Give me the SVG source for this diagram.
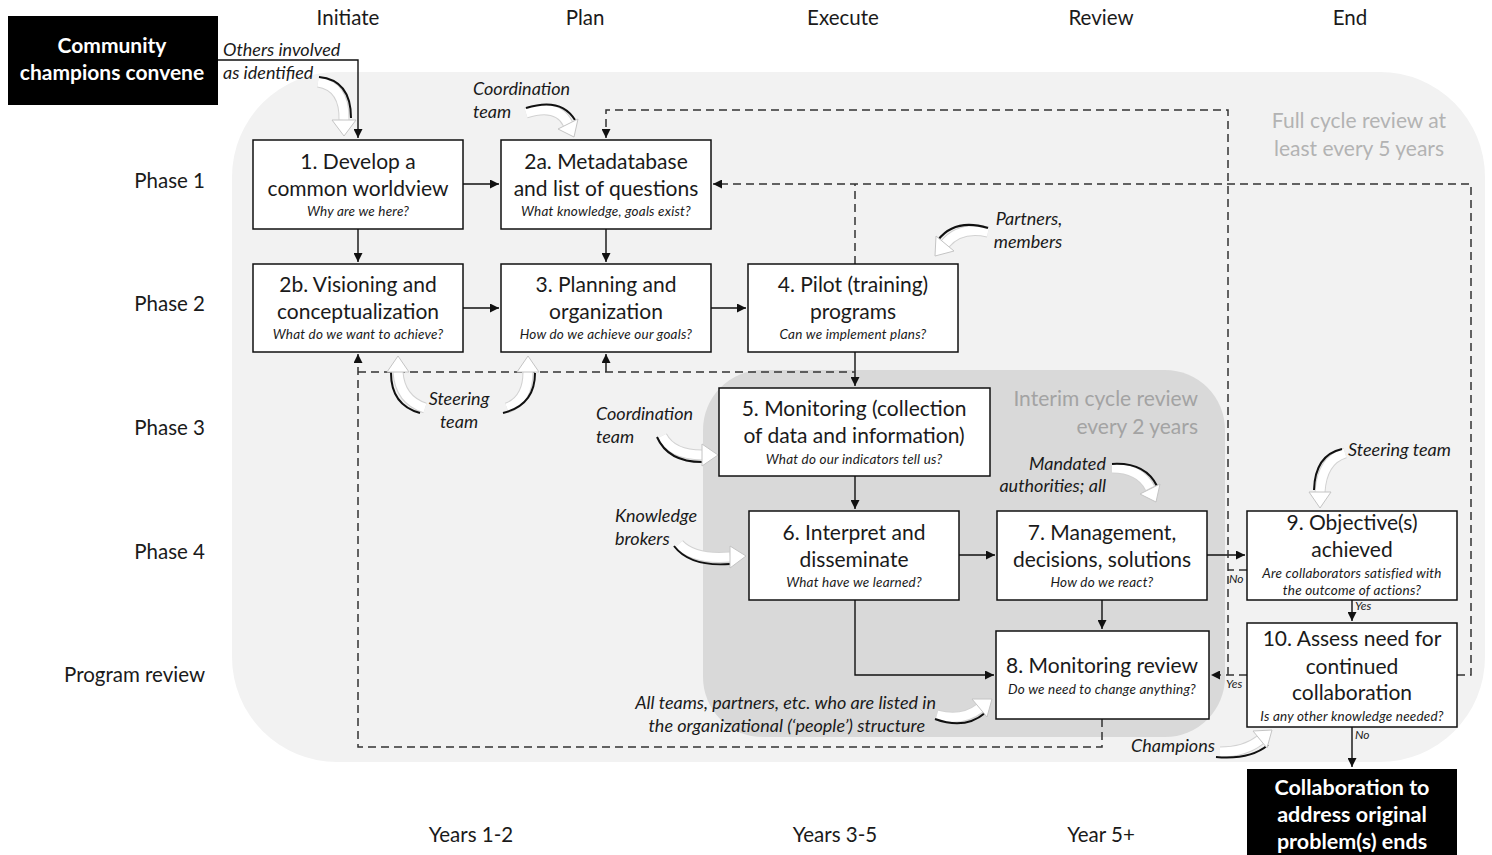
<svg xmlns="http://www.w3.org/2000/svg" width="1492" height="855" viewBox="0 0 1492 855">
<style>
.t{font-family:Lato,"Liberation Sans",sans-serif;fill:#1a1a1a}
.hd{font-size:20.5px;text-anchor:middle}
.rl{font-size:20.5px;text-anchor:end}
.ti{font-size:21px;text-anchor:middle}
.sub{font-size:13.5px;font-style:italic;text-anchor:middle;letter-spacing:0.2px}
.an{font-size:18px;font-style:italic}
.sm{font-size:12px;font-style:italic}
.wb{font-family:Lato,"Liberation Sans",sans-serif;font-weight:bold;fill:#fff;text-anchor:middle}
.gr{font-family:Lato,"Liberation Sans",sans-serif;font-size:21px}
.box{fill:#fff;stroke:#111;stroke-width:1.5}
.ln{fill:none;stroke:#111;stroke-width:1.4}
.ds{fill:none;stroke:#333;stroke-width:1.5;stroke-dasharray:8 5}
.cao{fill:none;stroke:#d2d2d2;stroke-width:11;stroke-linecap:butt}
.cab{fill:none;stroke:#fff;stroke-width:9;stroke-linecap:butt}
.cae{fill:none;stroke:#111;stroke-width:2}
.cah{fill:#fff;stroke:#c4c4c4;stroke-width:1}
</style>
<defs>
<marker id="ah" viewBox="0 0 10 10" refX="10" refY="5" markerWidth="9" markerHeight="9" markerUnits="userSpaceOnUse" orient="auto">
<path d="M0,0 L10,5 L0,10 z" fill="#111"/>
</marker>
</defs>
<rect width="1492" height="855" fill="#fff"/>
<g id="regions">
<rect x="232" y="72" width="1253" height="690" rx="105" ry="105" fill="#f2f2f2"/>
<rect x="703" y="370" width="522" height="367" rx="60" ry="60" fill="#d9d9d9"/>
<text class="gr" x="1359" y="128" text-anchor="middle" fill="#b3b3b3">Full cycle review at</text>
<text class="gr" x="1359" y="156" text-anchor="middle" fill="#b3b3b3">least every 5 years</text>
<text class="gr" x="1198" y="406" text-anchor="end" fill="#a3a3a3">Interim cycle review</text>
<text class="gr" x="1198" y="434" text-anchor="end" fill="#a3a3a3">every 2 years</text>
</g>
<g id="headers">
<text class="t hd" x="348" y="25">Initiate</text>
<text class="t hd" x="585" y="25">Plan</text>
<text class="t hd" x="843" y="25">Execute</text>
<text class="t hd" x="1101" y="25">Review</text>
<text class="t hd" x="1350" y="25">End</text>
<text class="t rl" x="205" y="188">Phase 1</text>
<text class="t rl" x="205" y="311">Phase 2</text>
<text class="t rl" x="205" y="435">Phase 3</text>
<text class="t rl" x="205" y="559">Phase 4</text>
<text class="t rl" x="205" y="682">Program review</text>
<text class="t hd" x="471" y="842">Years 1-2</text>
<text class="t hd" x="835" y="842">Years 3-5</text>
<text class="t hd" x="1101" y="842">Year 5+</text>
</g>
<g id="connectors">
<path class="ln" d="M218,60 H358 V138" marker-end="url(#ah)"/>
<path class="ln" d="M463,184 H499" marker-end="url(#ah)"/>
<path class="ln" d="M358,229 V262" marker-end="url(#ah)"/>
<path class="ln" d="M606,229 V262" marker-end="url(#ah)"/>
<path class="ln" d="M463,308 H499" marker-end="url(#ah)"/>
<path class="ln" d="M711,308 H746" marker-end="url(#ah)"/>
<path class="ln" d="M855,352 V386" marker-end="url(#ah)"/>
<path class="ln" d="M855,476 V509" marker-end="url(#ah)"/>
<path class="ln" d="M959,555 H995" marker-end="url(#ah)"/>
<path class="ln" d="M1102,600 V629" marker-end="url(#ah)"/>
<path class="ln" d="M855,600 V675 H994" marker-end="url(#ah)"/>
<path class="ln" d="M1207,555 H1245" marker-end="url(#ah)"/>
<path class="ln" d="M1352,600 V621" marker-end="url(#ah)"/>
<path class="ln" d="M1352,727 V767" marker-end="url(#ah)"/>
<path class="ln" d="M606,372 V354" marker-end="url(#ah)"/>
<path class="ds" d="M1247,570 H1228"/>
<path class="ds" d="M1228,675 V110 H606 V138" marker-end="url(#ah)"/>
<path class="ds" d="M1247,675 H1211" marker-end="url(#ah)"/>
<path class="ds" d="M1457,675 H1471 V184 H713" marker-end="url(#ah)"/>
<path class="ds" d="M855,264 V184"/>
<path class="ds" d="M1102,719 V747 H358 V354" marker-end="url(#ah)"/>
<path class="ds" d="M358,372 H855"/>
<text class="t sm" x="1229" y="583">No</text>
<text class="t sm" x="1355" y="610">Yes</text>
<text class="t sm" x="1226" y="688">Yes</text>
<text class="t sm" x="1355" y="739">No</text>
</g>
<g id="curved-arrows">
<g id="ca-others">
<path class="cao" d="M318,82 Q345,86 344,120"/><path class="cab" d="M318,82 Q345,86 344,120"/>
<path class="cae" d="M319,77 Q351,80 351,118"/>
<polygon class="cah" points="332,120 356,120 344,136"/>
</g>
<g id="ca-coord1">
<path class="cao" d="M526,113 Q558,103 568,124"/><path class="cab" d="M526,113 Q558,103 568,124"/>
<path class="cae" d="M526,108 Q561,97 575,120"/>
<polygon class="cah" points="578,119 558,129 574,137"/>
</g>
<g id="ca-partners">
<path class="cao" d="M988,232 Q960,226 945,244"/><path class="cab" d="M988,232 Q960,226 945,244"/>
<path class="cae" d="M988,228 Q955,218 938,240"/>
<polygon class="cah" points="954,251 936,236 935,256"/>
</g>
<g id="ca-steer1">
<path class="cao" d="M425,408 Q400,400 398,372"/><path class="cab" d="M425,408 Q400,400 398,372"/>
<path class="cae" d="M420,413 Q391,405 391,373"/>
<polygon class="cah" points="387,372 409,372 398,356"/>
</g>
<g id="ca-steer2">
<path class="cao" d="M507,408 Q528,400 528,372"/><path class="cab" d="M507,408 Q528,400 528,372"/>
<path class="cae" d="M503,413 Q535,405 535,373"/>
<polygon class="cah" points="517,372 539,372 528,356"/>
</g>
<g id="ca-coord2">
<path class="cao" d="M662,436 Q672,455 702,455"/><path class="cab" d="M662,436 Q672,455 702,455"/>
<path class="cae" d="M657,437 Q668,462 702,462"/>
<polygon class="cah" points="702,444 702,466 718,455"/>
</g>
<g id="ca-knowledge">
<path class="cao" d="M679,544 Q694,560 730,557"/><path class="cab" d="M679,544 Q694,560 730,557"/>
<path class="cae" d="M674,546 Q690,567 730,564"/>
<polygon class="cah" points="730,546 730,568 746,556"/>
</g>
<g id="ca-mandated">
<path class="cao" d="M1112,468 Q1140,468 1150,488"/><path class="cab" d="M1112,468 Q1140,468 1150,488"/>
<path class="cae" d="M1112,464 Q1145,462 1157,486"/>
<polygon class="cah" points="1160,484 1140,494 1156,502"/>
</g>
<g id="ca-steer3">
<path class="cao" d="M1345,453 Q1322,460 1320,492"/><path class="cab" d="M1345,453 Q1322,460 1320,492"/>
<path class="cae" d="M1342,449 Q1315,455 1314,490"/>
<polygon class="cah" points="1309,492 1331,492 1320,508"/>
</g>
<g id="ca-allteams">
<path class="cao" d="M937,715 Q962,722 980,708"/><path class="cab" d="M937,715 Q962,722 980,708"/>
<path class="cae" d="M935,719 Q965,730 985,713"/>
<polygon class="cah" points="987,717 972,699 992,699"/>
</g>
<g id="ca-champions">
<path class="cao" d="M1220,752 Q1245,752 1260,740"/><path class="cab" d="M1220,752 Q1245,752 1260,740"/>
<path class="cae" d="M1216,757 Q1250,760 1268,745"/>
<polygon class="cah" points="1267,748 1253,731 1272,730"/>
</g>
</g>
<g id="annotations">
<text class="t an" x="223" y="56">Others involved</text>
<text class="t an" x="223" y="79">as identified</text>
<text class="t an" x="473" y="95">Coordination</text>
<text class="t an" x="473" y="118">team</text>
<text class="t an" x="1029" y="225" text-anchor="middle">Partners,</text>
<text class="t an" x="1028" y="248" text-anchor="middle">members</text>
<text class="t an" x="459" y="405" text-anchor="middle">Steering</text>
<text class="t an" x="459" y="428" text-anchor="middle">team</text>
<text class="t an" x="596" y="420">Coordination</text>
<text class="t an" x="596" y="443">team</text>
<text class="t an" x="615" y="522">Knowledge</text>
<text class="t an" x="615" y="545">brokers</text>
<text class="t an" x="1106" y="470" text-anchor="end">Mandated</text>
<text class="t an" x="1106" y="492" text-anchor="end">authorities; all</text>
<text class="t an" x="1348" y="456">Steering team</text>
<text class="t an" x="936" y="709" text-anchor="end">All teams, partners, etc. who are listed in</text>
<text class="t an" x="925" y="732" text-anchor="end">the organizational (‘people’) structure</text>
<text class="t an" x="1131" y="752">Champions</text>
</g>
<g id="start">
<rect x="8" y="16" width="210" height="89" fill="#000"/>
<text class="wb" x="112" y="53" font-size="21">Community</text>
<text class="wb" x="112" y="80" font-size="21">champions convene</text>
</g>
<g id="n1">
<rect class="box" x="253" y="140" width="210" height="89"/>
<text class="t ti" x="358" y="169">1. Develop a</text>
<text class="t ti" x="358" y="196">common worldview</text>
<text class="t sub" x="358" y="216">Why are we here?</text>
</g>
<g id="n2a">
<rect class="box" x="501" y="140" width="210" height="89"/>
<text class="t ti" x="606" y="169">2a. Metadatabase</text>
<text class="t ti" x="606" y="196">and list of questions</text>
<text class="t sub" x="606" y="216">What knowledge, goals exist?</text>
</g>
<g id="n2b">
<rect class="box" x="253" y="264" width="210" height="88"/>
<text class="t ti" x="358" y="292">2b. Visioning and</text>
<text class="t ti" x="358" y="319">conceptualization</text>
<text class="t sub" x="358" y="339">What do we want to achieve?</text>
</g>
<g id="n3">
<rect class="box" x="501" y="264" width="210" height="88"/>
<text class="t ti" x="606" y="292">3. Planning and</text>
<text class="t ti" x="606" y="319">organization</text>
<text class="t sub" x="606" y="339">How do we achieve our goals?</text>
</g>
<g id="n4">
<rect class="box" x="748" y="264" width="210" height="88"/>
<text class="t ti" x="853" y="292">4. Pilot (training)</text>
<text class="t ti" x="853" y="319">programs</text>
<text class="t sub" x="853" y="339">Can we implement plans?</text>
</g>
<g id="n5">
<rect class="box" x="719" y="388" width="271" height="88"/>
<text class="t ti" x="854" y="416">5. Monitoring (collection</text>
<text class="t ti" x="854" y="443">of data and information)</text>
<text class="t sub" x="854" y="464">What do our indicators tell us?</text>
</g>
<g id="n6">
<rect class="box" x="749" y="511" width="210" height="89"/>
<text class="t ti" x="854" y="540">6. Interpret and</text>
<text class="t ti" x="854" y="567">disseminate</text>
<text class="t sub" x="854" y="587">What have we learned?</text>
</g>
<g id="n7">
<rect class="box" x="997" y="511" width="210" height="89"/>
<text class="t ti" x="1102" y="540">7. Management,</text>
<text class="t ti" x="1102" y="567">decisions, solutions</text>
<text class="t sub" x="1102" y="587">How do we react?</text>
</g>
<g id="n8">
<rect class="box" x="996" y="631" width="213" height="88"/>
<text class="t ti" x="1102" y="673">8. Monitoring review</text>
<text class="t sub" x="1102" y="694">Do we need to change anything?</text>
</g>
<g id="n9">
<rect class="box" x="1247" y="511" width="210" height="89"/>
<text class="t ti" x="1352" y="530">9. Objective(s)</text>
<text class="t ti" x="1352" y="557">achieved</text>
<text class="t sub" x="1352" y="578">Are collaborators  satisfied with</text>
<text class="t sub" x="1352" y="595">the outcome of actions?</text>
</g>
<g id="n10">
<rect class="box" x="1247" y="623" width="210" height="104"/>
<text class="t ti" x="1352" y="646">10. Assess need for</text>
<text class="t ti" x="1352" y="674">continued</text>
<text class="t ti" x="1352" y="700">collaboration</text>
<text class="t sub" x="1352" y="721">Is any  other knowledge needed?</text>
</g>
<g id="end">
<rect x="1247" y="769" width="210" height="86" fill="#000"/>
<text class="wb" x="1352" y="795" font-size="21.5">Collaboration to</text>
<text class="wb" x="1352" y="822" font-size="21.5">address original</text>
<text class="wb" x="1352" y="849" font-size="21.5">problem(s) ends</text>
</g>
</svg>
